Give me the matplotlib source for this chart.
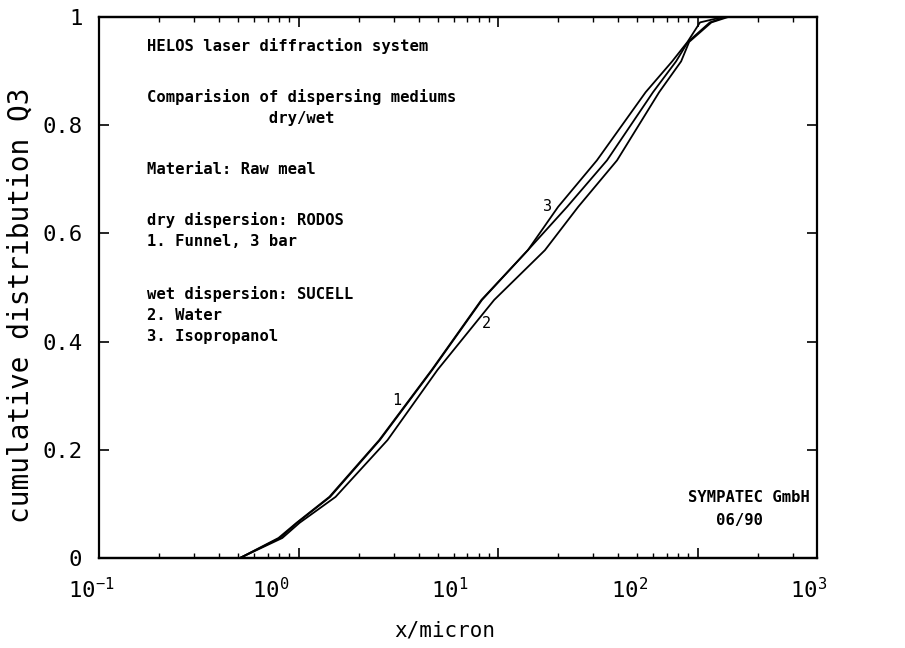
import numpy as np
import matplotlib
matplotlib.use('Agg')
import matplotlib.pyplot as plt
import matplotlib.transforms as mtransforms
from matplotlib.ticker import FixedLocator, FixedFormatter, LogLocator, NullFormatter

plt.rcParams['font.family'] = ['DejaVu Sans Mono']
plt.rcParams['mathtext.default'] = 'regular'

# cumulative distribution Q3 levels
q_levels = [0, 0.037, 0.065, 0.113, 0.218, 0.348, 0.477, 0.569, 0.649,
            0.735, 0.861, 0.918, 0.954, 0.99, 1.0, 1.0]

# particle size x/micron (as labelled on the axis) for each curve
x_funnel = [0.61, 1.02, 1.27, 1.94, 3.67, 7.2, 13.6, 24.5, 40.5,
            67.6, 122, 164, 191, 253, 310, 1000]
x_water = [0.61, 1.05, 1.31, 2.08, 4.05, 7.7, 15.9, 30.5, 46.7,
           76.9, 132, 175, 194, 258, 320, 1000]
x_isoprop = [0.61, 1.00, 1.26, 1.92, 3.64, 7.15, 13.5, 24.5, 36.1,
             59.4, 111, 156, 190, 223, 299, 1000]

# curve number labels (x, Q)
curve_labels = [('1', 4.57, 0.292), ('2', 14.4, 0.434), ('3', 31.7, 0.649)]

y_ticks = [0, 0.2, 0.4, 0.6, 0.8, 1]
y_ticklabels = ['0', '0.2', '0.4', '0.6', '0.8', '1']
x_labelpos = [0.1, 1, 10, 100, 1000]
x_ticklabels = [r'$10^{-1}$', r'$10^{0}$', r'$10^{1}$', r'$10^{2}$', r'$10^{3}$']
# the plotter's tick marks use a slightly wider decade than the labels
x_tickmarks = [0.1, 1, 10, 100]
tick_decade_ratio = 179.5 / 199.5

info_lines = [
    ('HELOS laser diffraction system', 46),
    ('Comparision of dispersing mediums', 97),
    ('             dry/wet', 118),
    ('Material: Raw meal', 169),
    ('dry dispersion: RODOS', 220),
    ('1. Funnel, 3 bar', 242),
    ('wet dispersion: SUCELL', 294),
    ('2. Water', 316),
    ('3. Isopropanol', 337),
]


def to_tick(x):
    with np.errstate(divide='ignore', invalid='ignore'):
        return 10 ** (-1 + tick_decade_ratio * (np.log10(x) + 1))


def to_label(t):
    with np.errstate(divide='ignore', invalid='ignore'):
        return 10 ** (-1 + (np.log10(t) + 1) / tick_decade_ratio)


W, H = 905, 648
fig = plt.figure(figsize=(W / 100, H / 100), dpi=100)
left, right, top, bottom = 99, 817, 17, 558
ax = fig.add_axes([left / W, 1 - bottom / H, (right - left) / W, (bottom - top) / H])

for xs in (x_funnel, x_water, x_isoprop):
    ax.plot(xs, q_levels, color='black', linewidth=1.3, solid_joinstyle='round')

ax.set_xscale('log')
ax.set_xlim(0.1, 1000)
ax.set_ylim(0, 1)

for lab, xv, qv in curve_labels:
    ax.text(xv, qv, lab, fontsize=11, ha='center', va='center')

# labels only on the main x axis
ax.xaxis.set_major_locator(FixedLocator(x_labelpos))
ax.xaxis.set_major_formatter(FixedFormatter(x_ticklabels))
ax.xaxis.set_minor_locator(FixedLocator([]))
ax.tick_params(axis='x', which='both', length=0, labelsize=16, pad=14)

ax.yaxis.set_major_locator(FixedLocator(y_ticks))
ax.yaxis.set_major_formatter(FixedFormatter(y_ticklabels))
ax.tick_params(axis='y', which='major', direction='in', left=True, right=True,
               length=7, width=1.2, labelsize=16, pad=12)

shift = mtransforms.ScaledTranslation(-0.08, 0, fig.dpi_scale_trans)
for lbl in ax.get_xticklabels():
    lbl.set_transform(lbl.get_transform() + shift)

# tick marks on bottom and top
for loc in ('bottom', 'top'):
    sec = ax.secondary_xaxis(loc, functions=(to_tick, to_label))
    sec.xaxis.set_major_locator(FixedLocator(x_tickmarks))
    sec.xaxis.set_minor_locator(LogLocator(base=10, subs=np.arange(2, 10), numticks=20))
    sec.xaxis.set_major_formatter(NullFormatter())
    sec.xaxis.set_minor_formatter(NullFormatter())
    sec.tick_params(which='both', direction='in')
    sec.tick_params(which='major', length=7, width=1.2)
    sec.tick_params(which='minor', length=3.5, width=1.0)
    for sp in sec.spines.values():
        sp.set_linewidth(1.6)

for sp in ax.spines.values():
    sp.set_linewidth(1.6)

ax.set_xlabel('x/micron', fontsize=15)
ax.xaxis.set_label_coords(0.482, -0.115)
ax.set_ylabel('cumulative distribution Q3', fontsize=20)
ax.yaxis.set_label_coords(-0.09, 0.468)

for txt, ypx in info_lines:
    ax.text((147 - left) / (right - left), (bottom - ypx) / (bottom - top), txt,
            transform=ax.transAxes, fontsize=11.2, fontweight='bold',
            ha='left', va='center')

ax.text((810 - left) / (right - left), (bottom - 498) / (bottom - top), 'SYMPATEC GmbH',
        transform=ax.transAxes, fontsize=11.2, fontweight='bold', ha='right', va='center')
ax.text((810 - left) / (right - left), (bottom - 521) / (bottom - top), '   06/90     ',
        transform=ax.transAxes, fontsize=11.2, fontweight='bold', ha='right', va='center')

fig.savefig('out.png', dpi=100)
